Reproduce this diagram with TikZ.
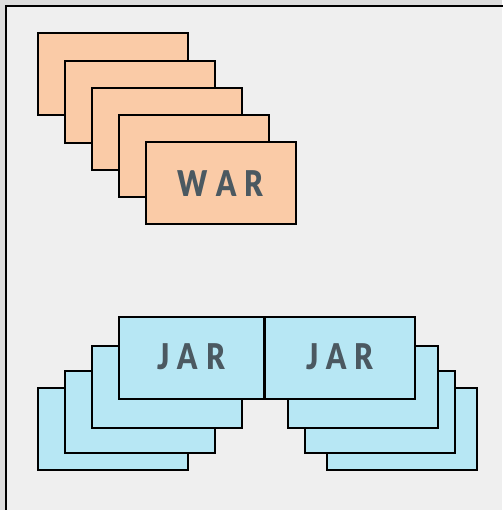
\documentclass[tikz,border=0pt]{standalone}
\usepackage{fontspec}
\newfontfamily\lblfont{Lato Black}
\definecolor{bgout}{HTML}{DDDDDD}
\definecolor{bgin}{HTML}{EFEFEF}
\definecolor{warfill}{HTML}{FACBA7}
\definecolor{jarfill}{HTML}{B7E7F4}
\definecolor{txtcol}{HTML}{4B5961}
\newcommand{\cardtext}[3]{\scalebox{0.8}[1]{#1\kern10pt #2\kern10pt #3}}
\begin{document}
\begin{tikzpicture}[x=1pt,y=-1pt,
  card/.style={draw=black,line width=2pt,minimum width=150pt,minimum height=82pt,inner sep=0pt},
  warcard/.style={card,fill=warfill},
  jarcard/.style={card,fill=jarfill},
  lbl/.style={text=txtcol,font={\lblfont\fontsize{35.5}{40}\selectfont}}]
\useasboundingbox (0,0) rectangle (502,510);
\fill[bgout] (0,0) rectangle (502,510);
\fill[bgin] (6,6) rectangle (502,510);
\draw[line width=2pt] (6,512) -- (6,6) -- (504,6);
% WAR stack
\node[warcard] (w1) at (112.5,74.5) {};
\node[warcard] (w2) at (139.7,101.7) {};
\node[warcard] (w3) at (167,128.9) {};
\node[warcard] (w4) at (194.2,156.3) {};
\node[warcard,lbl] (w5) at (220.5,183.5) {\cardtext{W}{A}{R}};
% left JAR stack
\node[jarcard] (jl1) at (112.5,428.8) {};
\node[jarcard] (jl2) at (139.7,412.3) {};
\node[jarcard] (jl3) at (166.7,386.7) {};
\node[jarcard,lbl,minimum width=145pt] (jl4) at (191.2,357.9) {\raisebox{3pt}{\cardtext{J}{A}{R}}};
% right JAR stack
\node[jarcard] (jr1) at (401.7,428.8) {};
\node[jarcard] (jr2) at (380,412.3) {};
\node[jarcard] (jr3) at (363.3,386.7) {};
\node[jarcard,lbl] (jr4) at (339.7,357.9) {\raisebox{3pt}{\cardtext{J}{A}{R}}};
\end{tikzpicture}
\end{document}
